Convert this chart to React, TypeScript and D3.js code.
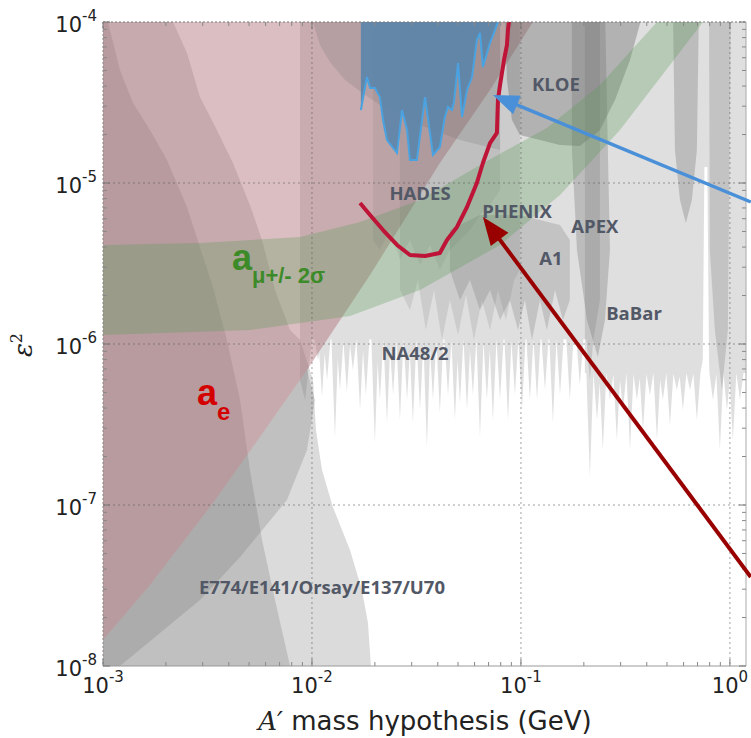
import React from 'react';
import * as d3 from 'd3';

type Pt = [number, number];

const xDecades = [-3, -2, -1, 0];
const yDecades = [-8, -7, -6, -5, -4];

// a_e excluded region, its lower-right edge (top -> bottom)
const aeEdge: Pt[] = [
  [-0.943, -4.0], [-1.148, -4.422], [-1.388, -4.876], [-1.722, -5.571],
  [-2.024, -6.161], [-2.249, -6.578], [-2.474, -6.988], [-2.775, -7.497], [-3.0, -7.839],
];

// a_mu +/- 2 sigma band
const amuUpper: Pt[] = [
  [-3.1, -5.385], [-3.0, -5.385], [-2.536, -5.373], [-2.057, -5.335], [-1.77, -5.242],
  [-1.483, -5.106], [-1.196, -4.888], [-0.876, -4.658], [-0.622, -4.391], [-0.349, -4.0],
];
const amuLower: Pt[] = [
  [-3.1, -5.944], [-3.0, -5.944], [-2.297, -5.913], [-1.818, -5.826], [-1.483, -5.665],
  [-1.1, -5.385], [-0.813, -5.075], [-0.526, -4.671], [-0.287, -4.267], [-0.129, -4.0],
];

// beam dump edges
const e137Edge: Pt[] = [
  [-2.665, -4.0], [-2.598, -4.193], [-2.536, -4.466], [-2.455, -4.671], [-2.378, -4.876],
  [-2.297, -5.137], [-2.239, -5.354], [-2.177, -5.665], [-2.105, -5.913], [-2.057, -5.975],
  [-1.995, -6.224], [-1.981, -6.534], [-1.952, -6.783], [-1.9, -7.012], [-1.818, -7.28],
  [-1.761, -7.528], [-1.732, -7.733], [-1.718, -8.0],
];
const e141Edge: Pt[] = [
  [-2.976, -4.0], [-2.919, -4.298], [-2.856, -4.503], [-2.775, -4.671], [-2.694, -4.857],
  [-2.598, -5.149], [-2.536, -5.398], [-2.474, -5.646], [-2.407, -5.975], [-2.344, -6.348],
  [-2.297, -6.783], [-2.239, -7.217], [-2.177, -7.59], [-2.105, -8.0],
];
const e774Lower: Pt[] = [
  [-2.919, -8.1], [-2.919, -8.0], [-2.536, -7.59], [-2.344, -7.323], [-2.12, -6.969],
  [-2.024, -6.658], [-1.986, -6.348], [-2.024, -6.161],
];

// NA48/2: floor of the solid part and the tips of its spikes
const na48Floor = -5.97;
const na48Spikes: Pt[] = [
  [-1.971, -6.099], [-1.952, -6.329], [-1.928, -6.224], [-1.89, -6.578], [-1.866, -6.286],
  [-1.833, -6.298], [-1.804, -6.161], [-1.77, -6.41], [-1.742, -6.317], [-1.699, -6.615],
  [-1.675, -6.348], [-1.641, -6.491], [-1.612, -6.317], [-1.579, -6.472], [-1.545, -6.348],
  [-1.517, -6.491], [-1.483, -6.41], [-1.45, -6.64], [-1.421, -6.348], [-1.388, -6.429],
  [-1.349, -6.317], [-1.316, -6.472], [-1.292, -6.366], [-1.258, -6.41], [-1.23, -6.317],
  [-1.196, -6.578], [-1.163, -6.348], [-1.134, -6.472], [-1.1, -6.348], [-1.062, -6.472],
  [-1.029, -6.317], [-0.995, -6.41], [-0.957, -6.348], [-0.923, -6.348], [-0.885, -6.286],
  [-0.847, -6.491], [-0.813, -6.317], [-0.766, -6.348], [-0.718, -6.255], [-0.67, -6.224],
];

// BaBar: floor and spikes, plus the gap near the omega
const babarFloor = -6.18;
const babarSpikes: Pt[] = [
  [0.048, -6.348], [0.014, -6.596], [-0.014, -6.41], [-0.048, -6.658], [-0.081, -6.348],
  [-0.158, -6.472], [-0.191, -6.286], [-0.225, -6.41], [-0.254, -6.286], [-0.287, -6.503],
  [-0.321, -6.348], [-0.349, -6.596], [-0.383, -6.317], [-0.416, -6.534], [-0.445, -6.348],
  [-0.478, -6.658], [-0.512, -6.41], [-0.541, -6.596], [-0.574, -6.348], [-0.608, -6.658],
  [-0.636, -6.472], [-0.67, -6.826],
];
const babarGap: Pt[] = [[-0.1, -6.1], [-0.108, -4.901], [-0.122, -4.901], [-0.13, -6.1]];

const hadesOld: Pt[] = [
  [-1.708, -3.9], [-1.708, -5.354], [-1.675, -5.416], [-1.627, -5.292], [-1.579, -5.478],
  [-1.531, -5.354], [-1.483, -5.509], [-1.435, -5.385], [-1.388, -5.54], [-1.34, -5.416],
  [-1.292, -5.354], [-1.244, -5.292], [-1.196, -5.199], [-1.148, -5.137], [-1.1, -5.043],
  [-1.1, -3.9],
];

const phenix: Pt[] = [
  [-1.579, -3.9], [-1.579, -5.665], [-1.531, -5.789], [-1.493, -5.602], [-1.455, -5.913],
  [-1.416, -5.665], [-1.378, -5.975], [-1.34, -5.727], [-1.301, -5.944], [-1.263, -5.696],
  [-1.225, -5.975], [-1.187, -5.727], [-1.148, -5.913], [-1.11, -5.665], [-1.072, -5.851],
  [-1.033, -5.602], [-1.005, -5.54], [-1.005, -3.9],
];

const a1: Pt[] = [
  [-1.34, -5.292], [-1.196, -5.199], [-1.005, -5.199], [-0.813, -5.261], [-0.766, -5.354],
  [-0.766, -5.727], [-0.799, -5.851], [-0.837, -5.665], [-0.876, -5.913], [-0.909, -5.727],
  [-0.947, -5.975], [-0.981, -5.727], [-1.014, -5.913], [-1.053, -5.727], [-1.1, -5.851],
  [-1.148, -5.665], [-1.196, -5.789], [-1.244, -5.602], [-1.292, -5.727], [-1.34, -5.54],
];

const kloe: Pt[] = [
  [-1.077, -3.9], [-1.067, -4.36], [-1.043, -4.609], [-1.005, -4.702], [-0.909, -4.733],
  [-0.813, -4.764], [-0.718, -4.77], [-0.622, -4.671], [-0.55, -4.484], [-0.478, -4.236],
  [-0.407, -3.9],
];

const apex: Pt[] = [
  [-0.756, -3.9], [-0.756, -4.795], [-0.732, -5.416], [-0.684, -5.851], [-0.632, -6.081],
  [-0.598, -5.851], [-0.574, -5.416], [-0.584, -4.795], [-0.598, -3.9],
];

const kloeHigh: Pt[] = [
  [-0.273, -3.9], [-0.263, -4.795], [-0.239, -5.106], [-0.211, -5.248], [-0.182, -5.106],
  [-0.158, -4.795], [-0.148, -3.9],
];

const wasaBand: Pt[] = [
  [-0.1, -3.9], [-0.096, -5.416], [-0.072, -5.913], [-0.038, -6.286], [-0.01, -5.913],
  [0.005, -3.9],
];

const amuExcl: Pt[] = [
  [-1.995, -3.9], [-1.995, -4.0], [-1.962, -4.143], [-1.914, -4.248], [-1.842, -4.36],
  [-1.746, -4.453], [-1.675, -4.516], [-1.483, -4.64], [-1.292, -4.733], [-1.1, -4.795],
  [-1.1, -3.9],
];

// new HADES limit (blue)
const hadesNew: Pt[] = [
  [-1.766, -4.547], [-1.737, -4.342], [-1.722, -4.41], [-1.699, -4.41], [-1.675, -4.466],
  [-1.66, -4.609], [-1.641, -4.733], [-1.593, -4.814], [-1.569, -4.547], [-1.545, -4.671],
  [-1.531, -4.857], [-1.498, -4.857], [-1.459, -4.466], [-1.421, -4.826], [-1.388, -4.776],
  [-1.364, -4.59], [-1.349, -4.528], [-1.33, -4.547], [-1.321, -4.503], [-1.301, -4.255],
  [-1.282, -4.59], [-1.258, -4.422], [-1.234, -4.342], [-1.211, -4.112], [-1.196, -4.068],
  [-1.182, -4.28], [-1.148, -4.13], [-1.124, -4.05], [-1.11, -4.0],
];

// PHENIX reach (red)
const phenixCurve: Pt[] = [
  [-1.77, -5.124], [-1.722, -5.199], [-1.66, -5.292], [-1.593, -5.385], [-1.531, -5.447],
  [-1.459, -5.453], [-1.388, -5.435], [-1.354, -5.354], [-1.306, -5.273], [-1.258, -5.149],
  [-1.211, -5.0], [-1.182, -4.876], [-1.148, -4.752], [-1.115, -4.689], [-1.11, -4.484],
  [-1.1, -4.391], [-1.081, -4.236], [-1.067, -4.143], [-1.062, -4.05], [-1.053, -3.957],
];

const blueArrow: Pt[] = [[0.1, -5.118], [-1.134, -4.453]];
const redArrow: Pt[] = [[0.1, -7.447], [-1.182, -5.211]];

const labels: { text: string; at: Pt }[] = [
  { text: 'KLOE', at: [-0.833, -4.379] },
  { text: 'HADES', at: [-1.483, -5.056] },
  { text: 'PHENIX', at: [-1.019, -5.168] },
  { text: 'APEX', at: [-0.646, -5.261] },
  { text: 'A1', at: [-0.856, -5.46] },
  { text: 'BaBar', at: [-0.459, -5.807] },
  { text: 'NA48/2', at: [-1.507, -6.05] },
  { text: 'E774/E141/Orsay/E137/U70', at: [-1.952, -7.509] },
];
const amuLabelAt: Pt = [-2.383, -5.54];
const aeLabelAt: Pt = [-2.55, -6.379];

const x = d3.scaleLog().domain([1e-3, 10 ** 0.077]).range([103, 746]);
const y = d3.scaleLog().domain([1e-8, 1e-4]).range([666, 22]);
const X = (p: Pt) => x(10 ** p[0]);
const Y = (p: Pt) => y(10 ** p[1]);
const line = d3.line<Pt>().x(X).y(Y);
const poly = (pts: Pt[]) => line(pts) + 'Z';

// downward spikes hanging from a floor (input order kept)
const spiky = (floor: number, spikes: Pt[], half = 0.017): Pt[] =>
  spikes.flatMap(([m, e]) => [[m + half, floor], [m, e], [m - half, floor]] as Pt[]);

const GRAY = '#6e6e6e';
const LABEL = '#525866';

function Arrow({ pts, color, width, head, half }: { pts: Pt[]; color: string; width: number; head: number; half: number }) {
  const x0 = X(pts[0]), y0 = Y(pts[0]), x1 = X(pts[1]), y1 = Y(pts[1]);
  const len = Math.hypot(x1 - x0, y1 - y0);
  const ux = (x1 - x0) / len, uy = (y1 - y0) / len;
  const bx = x1 - ux * head, by = y1 - uy * head;
  const tri = `M${x1},${y1}L${bx - uy * half},${by + ux * half}L${bx + uy * half},${by - ux * half}Z`;
  return (
    <g>
      <line x1={x0} y1={y0} x2={bx + ux * 2} y2={by + uy * 2} stroke={color} strokeWidth={width} />
      <path d={tri} fill={color} />
    </g>
  );
}

export default function App() {
  const [l, r] = x.range();
  const [b, t] = y.range();

  const aePoly: Pt[] = [[-3.1, -3.9], [-0.943, -3.9], ...aeEdge, [-3.1, -7.9]];
  const e137Poly: Pt[] = [[-3.1, -3.9], [-2.665, -3.9], ...e137Edge, [-1.718, -8.1], [-3.1, -8.1]];
  const e141Poly: Pt[] = [[-3.1, -3.9], [-2.976, -3.9], ...e141Edge, [-2.105, -8.1], [-3.1, -8.1]];
  const e774Poly: Pt[] = [...e774Lower, ...aeEdge.slice(5), [-3.1, -7.9], [-3.1, -8.1]];
  const amuPoly: Pt[] = [...amuUpper, ...amuLower.slice().reverse()];
  const na48Poly: Pt[] = [
    [-2.057, -3.9], [-0.622, -3.9], [-0.622, -5.727],
    ...spiky(na48Floor, na48Spikes.slice().reverse()),
    [-2.0, na48Floor], [-2.033, -6.348], [-2.057, -6.224],
  ];
  const babarPoly: Pt[] = [
    [-0.694, -3.9], [0.1, -3.9], [0.1, babarFloor],
    ...spiky(babarFloor, babarSpikes.slice(0, 5)),
    ...babarGap,
    ...spiky(babarFloor, babarSpikes.slice(5)),
    [-0.694, babarFloor],
  ];
  const bluePoly: Pt[] = [[-1.766, -3.9], ...hadesNew, [-1.11, -3.9]];

  const minorX: number[] = [];
  for (const d of xDecades) for (let k = 2; k <= 9; k++) { const v = k * 10 ** d; if (v <= x.domain()[1]) minorX.push(v); }
  const minorY: number[] = [];
  for (const d of yDecades.slice(0, -1)) for (let k = 2; k <= 9; k++) minorY.push(k * 10 ** d);

  return (
    <svg width={751} height={738} style={{ position: 'absolute', left: 0, top: 0, background: '#fff' }}>
      <defs>
        <clipPath id="plot-clip">
          <rect x={l} y={t} width={r - l} height={b - t} />
        </clipPath>
      </defs>
      <g clipPath="url(#plot-clip)">
        <rect x={l} y={t} width={r - l} height={b - t} fill="#fff" />
        <path d={poly(na48Poly)} fill={GRAY} fillOpacity={0.22} />
        <path d={poly(babarPoly)} fill={GRAY} fillOpacity={0.22} />
        <path d={poly(e137Poly)} fill={GRAY} fillOpacity={0.25} />
        <path d={poly(e141Poly)} fill={GRAY} fillOpacity={0.25} />
        <path d={poly(e774Poly)} fill={GRAY} fillOpacity={0.25} />
        <path d={poly(aePoly)} fill="#af6f75" fillOpacity={0.45} />
        <path d={poly(hadesOld)} fill={GRAY} fillOpacity={0.14} />
        <path d={poly(phenix)} fill={GRAY} fillOpacity={0.17} />
        <path d={poly(a1)} fill={GRAY} fillOpacity={0.25} />
        <path d={poly(kloe)} fill={GRAY} fillOpacity={0.4} />
        <path d={poly(apex)} fill={GRAY} fillOpacity={0.3} />
        <path d={poly(kloeHigh)} fill={GRAY} fillOpacity={0.3} />
        <path d={poly(wasaBand)} fill={GRAY} fillOpacity={0.25} />
        <path d={poly(amuExcl)} fill={GRAY} fillOpacity={0.2} />
        <path d={poly(amuPoly)} fill="#5a9a5a" fillOpacity={0.3} />
        <path d={poly(bluePoly)} fill="#5b85ab" fillOpacity={0.9} />
        <path d={line(hadesNew) ?? ''} fill="none" stroke="#4aa3e0" strokeWidth={2} />
        {xDecades.slice(1).map((d) => (
          <line key={'gx' + d} x1={x(10 ** d)} x2={x(10 ** d)} y1={t} y2={b} stroke="#555" strokeOpacity={0.55} strokeDasharray="2,3" />
        ))}
        {yDecades.slice(1, -1).map((d) => (
          <line key={'gy' + d} x1={l} x2={r} y1={y(10 ** d)} y2={y(10 ** d)} stroke="#555" strokeOpacity={0.55} strokeDasharray="2,3" />
        ))}
        <path d={line(phenixCurve) ?? ''} fill="none" stroke="#be1437" strokeWidth={4} strokeLinejoin="round" />
      </g>

      {/* frame and ticks */}
      <line x1={l} x2={r} y1={t} y2={t} stroke="#777" strokeDasharray="2,2" />
      <line x1={l} x2={l} y1={t} y2={b} stroke="#888" strokeDasharray="2,2" />
      <line x1={l} x2={r} y1={b} y2={b} stroke="#999" />
      <line x1={r} x2={r} y1={t} y2={b} stroke="#aaa" />
      {xDecades.map((d) => (
        <g key={'tx' + d} stroke="#777">
          <line x1={x(10 ** d)} x2={x(10 ** d)} y1={b} y2={b - 7} />
          <line x1={x(10 ** d)} x2={x(10 ** d)} y1={t} y2={t + 7} />
        </g>
      ))}
      {minorX.map((v) => (
        <g key={'mx' + v} stroke="#888">
          <line x1={x(v)} x2={x(v)} y1={b} y2={b - 4} />
          <line x1={x(v)} x2={x(v)} y1={t} y2={t + 4} />
        </g>
      ))}
      {yDecades.map((d) => (
        <g key={'ty' + d} stroke="#777">
          <line x1={l} x2={l + 7} y1={y(10 ** d)} y2={y(10 ** d)} />
          <line x1={r} x2={r - 7} y1={y(10 ** d)} y2={y(10 ** d)} />
        </g>
      ))}
      {minorY.map((v) => (
        <g key={'my' + v} stroke="#888">
          <line x1={l} x2={l + 4} y1={y(v)} y2={y(v)} />
          <line x1={r} x2={r - 4} y1={y(v)} y2={y(v)} />
        </g>
      ))}

      {/* region labels */}
      {labels.map((d) => (
        <text key={d.text} x={X(d.at)} y={Y(d.at)} textAnchor="middle" dominantBaseline="central"
          fontFamily="Open Sans" fontWeight={700} fontSize={18.5} fill={LABEL}>{d.text}</text>
      ))}
      <text x={X(amuLabelAt)} y={Y(amuLabelAt)} fontFamily="Liberation Sans" fontWeight={700} fontSize={36} fill="#3c8a28">
        a<tspan dy={13} fontSize={22}>μ+/- 2σ</tspan>
      </text>
      <text x={X(aeLabelAt)} y={Y(aeLabelAt)} fontFamily="Liberation Sans" fontWeight={700} fontSize={36} fill="#d40000">
        a<tspan dy={15} fontSize={24}>e</tspan>
      </text>

      {/* tick labels */}
      {yDecades.map((d) => (
        <text key={'ly' + d} x={97} y={y(10 ** d) + 10} textAnchor="end" fontFamily="DejaVu Sans" fontSize={21} fill="#222">
          10<tspan dy={-11} fontSize={15}>{String(d)}</tspan>
        </text>
      ))}
      {xDecades.map((d) => (
        <text key={'lx' + d} x={x(10 ** d)} y={693} textAnchor="middle" fontFamily="DejaVu Sans" fontSize={21} fill="#222">
          10<tspan dy={-11} fontSize={15}>{String(d)}</tspan>
        </text>
      ))}

      {/* axis titles */}
      <text x={425} y={730} textAnchor="middle" fontFamily="DejaVu Sans" fontSize={26} fill="#222">
        <tspan fontFamily="DejaVu Serif" fontStyle="italic">A′</tspan> mass hypothesis (GeV)
      </text>
      <text transform="translate(32,345) rotate(-90)" textAnchor="middle" fontFamily="DejaVu Serif" fontStyle="italic" fontSize={26} fill="#222">
        ε<tspan dy={-10} fontSize={16} fontStyle="normal">2</tspan>
      </text>

      <Arrow pts={blueArrow} color="#4a90d9" width={3.5} head={26} half={10} />
      <Arrow pts={redArrow} color="#990000" width={4} head={28} half={11} />
    </svg>
  );
}
